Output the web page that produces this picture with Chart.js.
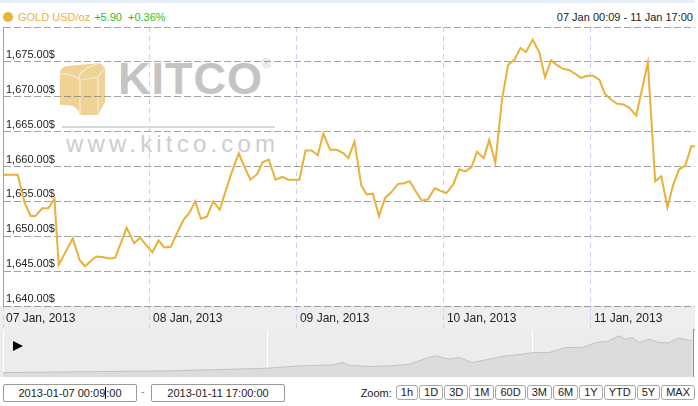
<!DOCTYPE html>
<html>
<head>
<meta charset="utf-8">
<script src="https://cdn.jsdelivr.net/npm/chart.js@4/dist/chart.umd.min.js"></script>
<style>
  html,body{margin:0;padding:0;background:#fff;}
  body{width:698px;height:406px;position:relative;overflow:hidden;font-family:"Liberation Sans",Arial,sans-serif;}
  #topstrip{position:absolute;left:0;top:0;width:695px;height:3px;background:#e6eef8;}
  #hdrL{position:absolute;left:3px;top:10px;font-size:11px;line-height:14px;white-space:nowrap;}
  #hdrL .dot{display:inline-block;width:10px;height:10px;border-radius:50%;background:#e8b33a;vertical-align:-1px;margin-right:5px;}
  #hdrL .name{color:#e8b33a;}
  #hdrL .chg{color:#1fbf1f;margin-left:4px;}
  #hdrL .pct{color:#1fbf1f;margin-left:6px;}
  #hdrR{position:absolute;right:5px;top:10px;font-size:11px;line-height:14px;color:#222;white-space:nowrap;}
  #wm{position:absolute;left:0;top:0;width:698px;height:330px;z-index:0;}
  #wm .k{position:absolute;left:118px;top:56px;font-size:45px;font-weight:bold;color:#c4c4c4;letter-spacing:1px;line-height:45px;}
  #wm .r{position:absolute;left:262px;top:57px;font-size:12px;color:#c8c8c8;}
  #wm .ln{position:absolute;left:62px;top:126px;width:213px;height:2px;background:#d8d8d8;}
  #wm .w{position:absolute;left:66px;top:131px;font-size:24px;color:#cdcdcd;letter-spacing:4.2px;line-height:26px;}
  #main{position:absolute;left:0;top:0;z-index:1;}
  #nav{position:absolute;left:0;top:329px;z-index:1;}
  #play{position:absolute;left:13px;top:341px;width:0;height:0;border-left:10px solid #000;border-top:5px solid transparent;border-bottom:5px solid transparent;z-index:2;}
  .inp{position:absolute;top:384px;height:16px;border:1px solid #9a9a9a;border-radius:2px;font-size:11px;line-height:16px;text-align:center;color:#222;background:#fff;}
  .caret{display:inline-block;width:0;height:12px;border-left:1px solid #000;vertical-align:-2px;}
  #dash{position:absolute;left:141px;top:385px;font-size:11px;color:#888;}
  #zoom{position:absolute;right:3px;top:385px;display:flex;align-items:center;gap:1px;font-size:11px;color:#222;}
  #zoom .lbl{margin-right:3px;}
  #zoom .b{border:1px solid #a8a8a8;border-radius:3px;height:13px;line-height:13px;padding:0 4px;background:#fff;}
</style>
</head>
<body>
<div id="topstrip"></div>
<div id="wm">
  <svg style="position:absolute;left:58px;top:62px" width="50" height="56" viewBox="0 0 50 56">
    <path d="M2 12 Q2 5 9 4 L42 1 L47 6 L47 40 L40 53 L22 53 Q20 44 10 43 L2 43 Z" fill="#eed190" opacity="0.95"/>
    <path d="M2 12 Q12 10 22 18 L22 53 M22 18 L40 15 L47 6 M40 15 L40 53 M22 18 Q18 8 42 1" fill="none" stroke="#f8ecd0" stroke-width="1.2"/>
  </svg>
  <div class="k">KITCO</div>
  <div class="r">®</div>
  <div class="ln"></div>
  <div class="w">www.kitco.com</div>
</div>
<div id="hdrL"><span class="dot"></span><span class="name">GOLD USD/oz</span><span class="chg">+5.90</span><span class="pct">+0.36%</span></div>
<div id="hdrR">07 Jan 00:09 - 11 Jan 17:00</div>
<canvas id="main" width="698" height="330"></canvas>
<canvas id="nav" width="698" height="48"></canvas>
<div id="play"></div>
<div class="inp" style="left:3px;width:132px;">2013-01-07 00:09<span class="caret"></span>:00</div>
<div id="dash">-</div>
<div class="inp" style="left:151px;width:132px;">2013-01-11 17:00:00</div>
<div id="zoom"><span class="lbl">Zoom:</span></div>
<script>
// ---- data ----
// hours since 07 Jan 2013 00:00
const hours = [0.15,2.4,3.5,4.5,5.3,6.4,7.4,8.4,9.1,11.4,12.5,13.4,14.5,15.3,16.4,17.4,18.3,20.2,21.4,22.4,23.5,
  24.4,25.4,26.3,27.4,28.4,29.5,30.4,31.4,32.3,33.3,34.3,35.4,36.4,37.4,38.5,39.4,40.4,41.5,42.4,43.4,44.5,45.6,46.6,47.5,48.4,
  49.4,50.4,51.4,52.3,53.4,54.5,55.6,56.4,57.4,58.5,59.4,60.4,61.4,62.4,63.4,64.5,65.5,66.4,67.5,68.4,69.4,70.5,71.4,
  72.4,73.5,74.5,75.5,76.5,77.4,78.5,79.4,80.4,81.5,82.5,83.5,84.5,85.4,86.5,87.6,88.5,89.5,90.5,91.5,92.5,
  93.4,94.4,95.4,96.4,97.4,98.3,99.3,100.3,101.3,102.3,103.4,105.3,106.5,107.5,108.5,109.4,110.4,111.4,112.4,113.0];
const goldPrice = [1658.8,1658.8,1654.9,1652.9,1652.9,1654.0,1654.0,1655.4,1645.9,1649.7,1646.6,1645.7,1646.6,1647.1,1647.0,1646.8,1646.9,1651.2,1649.0,1649.8,1648.6,
  1647.7,1649.4,1648.4,1648.5,1650.4,1652.4,1653.3,1655.0,1652.5,1652.8,1655.0,1653.8,1656.6,1659.3,1661.9,1660.0,1658.1,1658.9,1660.6,1661.0,1658.1,1658.5,1658.1,1658.1,1658.1,
  1662.3,1662.3,1661.6,1664.7,1662.4,1662.4,1661.9,1661.2,1663.6,1657.3,1656.0,1656.1,1652.9,1655.5,1656.3,1657.5,1657.6,1657.9,1656.3,1655.1,1655.3,1656.9,1656.5,
  1656.2,1657.4,1659.6,1659.3,1659.9,1662.1,1661.2,1663.8,1660.5,1669.7,1674.6,1675.3,1677.0,1676.4,1678.2,1676.3,1672.8,1675.2,1674.5,1674.0,1673.8,
  1673.3,1672.7,1673.0,1673.0,1672.4,1670.4,1669.6,1669.0,1668.9,1668.4,1667.3,1674.9,1657.9,1658.6,1654.1,1657.3,1659.6,1660.1,1662.9,1662.9];
const dayTicks = [0,24,48,72,96];
const dayLabels = ['07 Jan, 2013','08 Jan, 2013','09 Jan, 2013','10 Jan, 2013','11 Jan, 2013'];
const priceTicks = [1640,1645,1650,1655,1660,1665,1670,1675,1680];
// navigator (long-term history)
const navYears = [2000.0,2001.83,2003.09,2004.35,2005.0,2005.6,2006.23,2006.42,2006.55,2006.92,2007.3,2007.68,2008.0,2008.18,2008.43,2008.62,2008.87,
  2009.19,2009.5,2009.82,2010.0,2010.32,2010.63,2010.95,2011.2,2011.45,2011.64,2011.77,2011.89,2012.02,2012.21,2012.4,2012.58,2012.77,2013.02];
const navPrices = [293,338,368,442,486,587,630,731,609,560,587,661,924,1025,880,950,731,
  880,1025,1099,1169,1169,1388,1388,1607,1682,1900,1756,1826,1607,1756,1607,1607,1799,1682];
const navTicks = [2000,2005,2010];
const zoomButtons = ['1h','1D','3D','1M','60D','3M','6M','1Y','YTD','5Y','MAX'];

const FONT = '"Liberation Sans", Arial, sans-serif';

const zoomBox = document.getElementById('zoom');
zoomButtons.forEach(t => { const s = document.createElement('span'); s.className = 'b'; s.textContent = t; zoomBox.appendChild(s); });

const bandPlugin = {
  id: 'band',
  beforeDraw(chart) {
    const {ctx, chartArea: a} = chart;
    ctx.save();
    ctx.fillStyle = '#eeeeee';
    ctx.fillRect(0, a.bottom, a.right, 23);
    ctx.strokeStyle = '#a3a3a3';
    ctx.lineWidth = 1;
    ctx.beginPath();
    ctx.moveTo(0, a.bottom + 23.5); ctx.lineTo(a.right, a.bottom + 23.5);
    ctx.stroke();
    ctx.restore();
  }
};

new Chart(document.getElementById('main'), {
  type: 'line',
  data: {
    datasets: [{
      data: hours.map((h, i) => ({x: h, y: goldPrice[i]})),
      borderColor: '#e8b13a',
      borderWidth: 2,
      pointRadius: 0,
      tension: 0,
      fill: false
    }]
  },
  options: {
    responsive: false,
    animation: false,
    events: [],
    layout: {padding: {left: 3, right: 3, top: 27, bottom: 0}},
    plugins: {legend: {display: false}, tooltip: {enabled: false}},
    scales: {
      x: {
        type: 'linear', min: 0, max: 113,
        afterBuildTicks: s => { s.ticks = dayTicks.map(v => ({value: v})); },
        afterFit: s => { s.height = 24; },
        grid: {color: '#cfcdf2', lineWidth: 1, drawTicks: true, tickLength: 22, tickColor: '#cfcdf2', tickBorderDash: [5, 4]},
        border: {display: false, dash: [5, 4]},
        ticks: {
          autoSkip: false, maxRotation: 0, align: 'start', labelOffset: 3, padding: -17,
          color: '#222', font: {family: FONT, size: 12},
          callback: (v) => dayLabels[dayTicks.indexOf(v)]
        }
      },
      y: {
        min: 1640, max: 1680,
        afterBuildTicks: s => { s.ticks = priceTicks.map(v => ({value: v})); },
        afterFit: s => { s.width = 0; },
        grid: {color: 'rgba(110,110,110,0.65)', lineWidth: 1, drawTicks: false},
        border: {display: true, color: '#a0a0a0', width: 1, dash: [7, 3]},
        ticks: {
          mirror: true, padding: 3, labelOffset: -7,
          color: '#222', font: {family: FONT, size: 11},
          callback: v => v === 1680 ? '' : v.toLocaleString('en-US', {minimumFractionDigits: 2, maximumFractionDigits: 2}) + '$'
        }
      }
    }
  },
  plugins: [bandPlugin]
});

const navBg = {
  id: 'navbg',
  beforeDraw(chart) {
    const {ctx, chartArea: a} = chart;
    ctx.save();
    ctx.fillStyle = '#ececec';
    ctx.fillRect(0, 0, a.right, chart.height);
    ctx.restore();
  },
  afterDraw(chart) {
    const {ctx, chartArea: a} = chart;
    ctx.save();
    ctx.strokeStyle = '#8a8a8a';
    ctx.lineWidth = 1;
    ctx.beginPath();
    ctx.moveTo(a.right + 0.5, 0); ctx.lineTo(a.right + 0.5, chart.height);
    ctx.stroke();
    ctx.restore();
  }
};

new Chart(document.getElementById('nav'), {
  type: 'line',
  data: {
    datasets: [{
      data: navYears.map((y, i) => ({x: y, y: navPrices[i]})),
      borderColor: '#c2c2c2',
      backgroundColor: '#dcdcdc',
      borderWidth: 1,
      pointRadius: 0,
      tension: 0,
      fill: 'start'
    }]
  },
  options: {
    responsive: false,
    animation: false,
    events: [],
    layout: {padding: {left: 3, right: 5, top: 1, bottom: 0}},
    plugins: {legend: {display: false}, tooltip: {enabled: false}},
    scales: {
      x: {
        type: 'linear', min: 2000, max: 2013.04, z: 1,
        afterBuildTicks: s => { s.ticks = navTicks.map(v => ({value: v})); },
        afterFit: s => { s.height = 0; },
        grid: {color: '#ffffff', lineWidth: 1, drawTicks: false},
        border: {display: false},
        ticks: {align: 'start', labelOffset: 2, padding: -17, color: '#222', font: {family: FONT, size: 12}, callback: v => String(v)}
      },
      y: {display: false, min: 100, max: 2160}
    }
  },
  plugins: [navBg]
});
</script>
</body>
</html>
